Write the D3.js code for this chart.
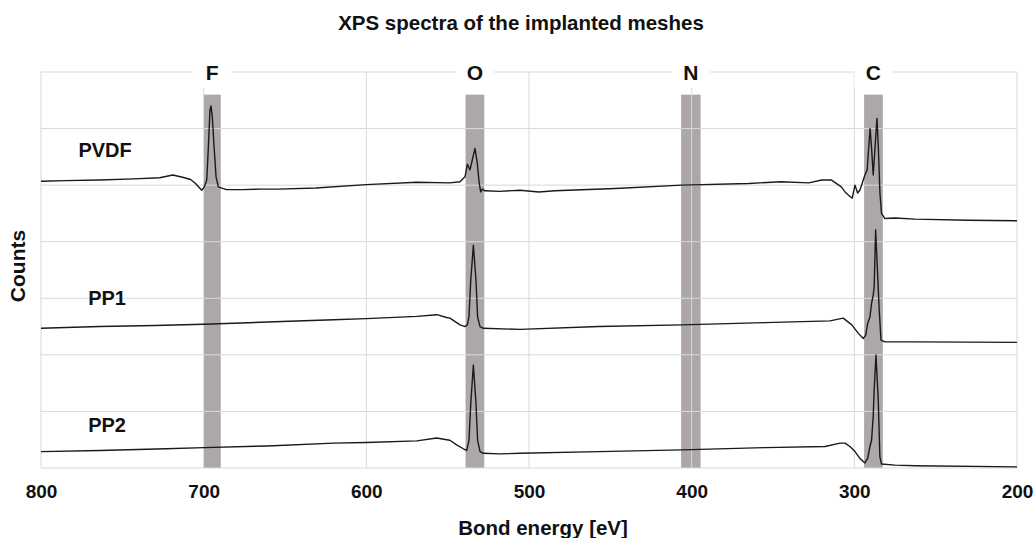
<!DOCTYPE html>
<html>
<head>
<meta charset="utf-8">
<script src="https://cdn.jsdelivr.net/npm/d3@7"></script>
<style>
  body { margin: 0; background: #fff; }
  text { font-family: "Liberation Sans", Arial, sans-serif; font-weight: bold; fill: #111; }
</style>
</head>
<body>
<div id="chart"></div>
<script>
// XPS survey spectra (counts in grid units)
const xTicks = [800, 700, 600, 500, 400, 300, 200];
const yGrid = [0, 1, 2, 3, 4, 5, 6, 7];

// element regions [name, high eV, low eV]
const bandNames = ["F", "O", "N", "C"];
const bandHigh = [700, 539, 406.5, 294];
const bandLow = [689.5, 527.5, 394.5, 282.5];
const bandTop = 6.6;

const pvdfPoints = [[800, 5.07], [785, 5.08], [764, 5.09], [743, 5.11], [727, 5.13], [719, 5.18], [713, 5.14], [708, 5.10], [705, 5.03],
  [701.2, 4.91], [699.8, 4.96], [698.1, 5.09], [697.1, 5.68], [696.1, 6.33], [695.5, 6.40], [694.7, 6.21], [693.6, 5.68], [692.4, 5.15],
  [691, 4.97], [686, 4.92], [676, 4.92], [665, 4.93], [654, 4.93], [631, 4.95], [600, 5.01], [569, 5.05], [548.6, 5.04], [542.4, 5.06],
  [539.3, 5.15], [537.9, 5.37], [536.3, 5.27], [534.9, 5.44], [533.2, 5.65], [531.8, 5.39], [530.6, 5.03], [529.7, 4.88], [528.7, 4.93],
  [527.1, 4.90], [518, 4.89], [505.5, 4.91], [494, 4.88], [484, 4.90], [447, 4.94], [406, 5.00], [365, 5.03], [345, 5.06], [328, 5.04],
  [320, 5.09], [314, 5.09], [308, 4.97], [305.7, 4.88], [302.7, 4.80], [301.3, 4.77], [299.6, 5.00], [298, 4.86], [296.6, 4.91],
  [295.2, 5.03], [293.5, 5.18], [292.1, 5.27], [291.5, 5.53], [290.3, 6.00], [289.4, 5.65], [288.4, 5.18], [287.3, 5.65], [286.1, 6.18],
  [285.3, 5.71], [284.3, 4.88], [283.3, 4.50], [281.2, 4.41], [275, 4.42], [262.6, 4.40], [230, 4.38], [200, 4.37]];

const pp1Points = [[800, 2.47], [764, 2.50], [730, 2.52], [700, 2.54], [661, 2.58], [620, 2.62], [600, 2.64], [569, 2.68], [556.7, 2.71],
  [550.6, 2.66], [548.6, 2.65], [542.4, 2.53], [539.3, 2.50], [537.9, 2.53], [536.9, 2.67], [535.8, 3.32], [534.2, 3.94], [532.6, 3.32],
  [531.6, 2.67], [530.1, 2.50], [528.1, 2.47], [505.5, 2.45], [457, 2.50], [406, 2.53], [355, 2.57], [315, 2.60], [306.8, 2.65],
  [301.6, 2.53], [297.5, 2.38], [294.5, 2.29], [293, 2.35], [291.8, 2.56], [290.4, 2.67], [289.4, 2.91], [288.4, 3.06], [287.8, 3.20],
  [286.9, 4.21], [284.7, 2.79], [283.6, 2.26], [281.2, 2.23], [262.6, 2.23], [200, 2.22]];

const pp2Points = [[800, 0.29], [764, 0.31], [723, 0.34], [700, 0.36], [661, 0.39], [620, 0.44], [600, 0.45], [569, 0.48], [556.7, 0.53],
  [550.6, 0.50], [548.6, 0.49], [544.5, 0.41], [540.4, 0.34], [538.3, 0.31], [536.9, 0.49], [535.8, 1.14], [534.2, 1.82], [532.6, 1.14],
  [531.6, 0.49], [530.1, 0.29], [528.1, 0.26], [517.8, 0.25], [505.5, 0.26], [457, 0.29], [406, 0.32], [355, 0.36], [318, 0.38],
  [308.8, 0.44], [305.7, 0.44], [302.7, 0.38], [299.6, 0.29], [296.6, 0.17], [293.5, 0.09], [291.8, 0.17], [290.4, 0.38], [289.4, 0.49],
  [288.4, 0.91], [287.8, 1.38], [286.7, 2.00], [285.3, 1.20], [284.3, 0.20], [283.3, 0.07], [275, 0.05], [262.6, 0.04], [200, 0.02]];

const seriesNames = ["PVDF", "PP1", "PP2"];
const seriesPoints = [pvdfPoints, pp1Points, pp2Points];
// where each series name sits, [eV, counts]
const seriesLabelAt = [[777, 5.5], [771, 2.88], [771, 0.64]];

const width = 1035, height = 538;
const margin = { top: 72, right: 18, bottom: 70, left: 41 };

const svg = d3.select("#chart").append("svg")
    .attr("width", width)
    .attr("height", height);

const x = d3.scaleLinear()
    .domain([800, 200])
    .range([margin.left, width - margin.right]);

const y = d3.scaleLinear()
    .domain([0, 7])
    .range([height - margin.bottom, margin.top]);

// grey element bands go under the grid
svg.append("g").selectAll("rect")
    .data(bandNames)
    .enter().append("rect")
    .attr("x", (d, i) => x(bandHigh[i]))
    .attr("width", (d, i) => x(bandLow[i]) - x(bandHigh[i]))
    .attr("y", y(bandTop))
    .attr("height", y(0) - y(bandTop))
    .attr("fill", "#ada7a7");

const grid = svg.append("g").attr("stroke", "#d9d9d9").attr("stroke-width", 1);
grid.selectAll(".h")
    .data(yGrid)
    .enter().append("line")
    .attr("x1", x(800)).attr("x2", x(200))
    .attr("y1", d => y(d)).attr("y2", d => y(d));
grid.selectAll(".v")
    .data(xTicks)
    .enter().append("line")
    .attr("x1", d => x(d)).attr("x2", d => x(d))
    .attr("y1", y(7)).attr("y2", y(0));

// element labels sit on the top gridline with a white box
const bandLabels = svg.append("g").selectAll("g")
    .data(bandNames)
    .enter().append("g")
    .attr("transform", (d, i) => `translate(${x((bandHigh[i] + bandLow[i]) / 2)},${y(7)})`);
bandLabels.append("rect")
    .attr("x", -19).attr("y", -15)
    .attr("width", 38).attr("height", 31)
    .attr("fill", "#fff");
bandLabels.append("text")
    .attr("text-anchor", "middle")
    .attr("dy", "0.36em")
    .style("font-size", "21px")
    .text(d => d);

// spectra
const line = d3.line()
    .x(d => x(d[0]))
    .y(d => y(d[1]));

svg.append("g").selectAll("path")
    .data(seriesPoints)
    .enter().append("path")
    .attr("d", line)
    .attr("fill", "none")
    .attr("stroke", "#1a1a1a")
    .attr("stroke-width", 1.4)
    .attr("stroke-linejoin", "round");

svg.append("g").selectAll("text")
    .data(seriesNames)
    .enter().append("text")
    .attr("x", (d, i) => x(seriesLabelAt[i][0]))
    .attr("y", (d, i) => y(seriesLabelAt[i][1]))
    .style("font-size", "20px")
    .text(d => d);

// x axis, labels only
const xAxis = svg.append("g")
    .attr("transform", `translate(0,${height - margin.bottom})`)
    .call(d3.axisBottom(x).tickValues(xTicks).tickSize(0).tickPadding(17).tickFormat(d3.format("d")));
xAxis.select(".domain").remove();
xAxis.selectAll("text")
    .style("font-size", "19px")
    .style("font-family", "'Liberation Sans', Arial, sans-serif")
    .attr("fill", "#111");

svg.append("text")
    .attr("x", 521)
    .attr("y", 30)
    .attr("text-anchor", "middle")
    .style("font-size", "20.5px")
    .text("XPS spectra of the implanted meshes");

svg.append("text")
    .attr("x", 543)
    .attr("y", 535)
    .attr("text-anchor", "middle")
    .style("font-size", "20.5px")
    .text("Bond energy [eV]");

svg.append("text")
    .attr("transform", "translate(25,266) rotate(-90)")
    .attr("text-anchor", "middle")
    .style("font-size", "21px")
    .text("Counts");
</script>
</body>
</html>
